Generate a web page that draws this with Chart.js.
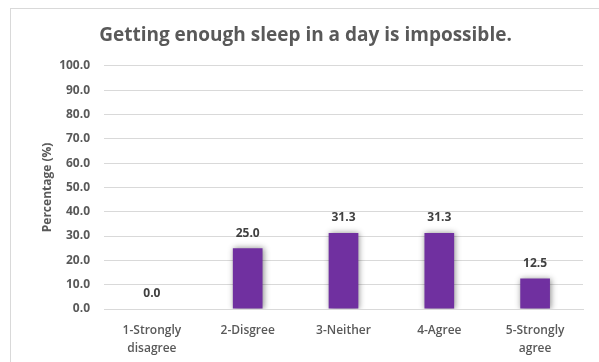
<!DOCTYPE html>
<html>
<head>
<meta charset="utf-8">
<script src="https://cdn.jsdelivr.net/npm/chart.js@4/dist/chart.umd.min.js"></script>
<style>
  html, body { margin: 0; padding: 0; background: #fff; overflow: hidden; }
</style>
</head>
<body>
<canvas id="chart" width="599" height="362"></canvas>
<script>
// values
const categories = [['1-Strongly', 'disagree'], '2-Disgree', '3-Neither', '4-Agree', ['5-Strongly', 'agree']];
const percentages = [0.0, 25.0, 31.3, 31.3, 12.5];
const yTicks = [0, 10, 20, 30, 40, 50, 60, 70, 80, 90, 100];

const fontName = 'Open Sans';
const grey = '#595959';

// outer frame of the Excel chart object
const framePlugin = {
    id: 'frame',
    beforeDraw(chart) {
        const ctx = chart.ctx;
        ctx.save();
        ctx.strokeStyle = '#d9d9d9';
        ctx.lineWidth = 1;
        ctx.strokeRect(10.5, 8.5, 700, 500);
        ctx.restore();
    }
};

// soft shadow behind the bars
const shadowPlugin = {
    id: 'barShadow',
    beforeDatasetsDraw(chart) {
        const ctx = chart.ctx;
        ctx.save();
        ctx.shadowColor = 'rgba(0,0,0,0.45)';
        ctx.shadowBlur = 6;
        ctx.shadowOffsetX = 1;
        ctx.shadowOffsetY = 0;
    },
    afterDatasetsDraw(chart) {
        chart.ctx.restore();
    }
};

// value labels above each bar
const labelPlugin = {
    id: 'valueLabels',
    afterDraw(chart) {
        const ctx = chart.ctx;
        const meta = chart.getDatasetMeta(0);
        ctx.save();
        ctx.font = 'bold 12px "' + fontName + '"';
        ctx.fillStyle = '#404040';
        ctx.textAlign = 'center';
        ctx.textBaseline = 'middle';
        meta.data.forEach((bar, i) => {
            ctx.fillText(percentages[i].toFixed(1), bar.x, bar.y - 15);
        });
        ctx.restore();
    }
};

const ctx = document.getElementById('chart').getContext('2d');
const myChart = new Chart(ctx, {
    type: 'bar',
    data: {
        labels: categories,
        datasets: [{
            data: percentages,
            backgroundColor: '#7030a0',
            borderWidth: 0,
            barPercentage: 0.31,
            categoryPercentage: 1
        }]
    },
    plugins: [framePlugin, shadowPlugin, labelPlugin],
    options: {
        responsive: false,
        animation: false,
        devicePixelRatio: 1,
        layout: { padding: { left: 28, right: 16, top: 0, bottom: 0 } },
        plugins: {
            legend: { display: false },
            tooltip: { enabled: false },
            title: {
                display: true,
                text: 'Getting enough sleep in a day is impossible.',
                color: grey,
                font: { family: fontName, size: 19, weight: 'bold', lineHeight: 1.2 },
                padding: { top: 24, bottom: 19 }
            }
        },
        scales: {
            x: {
                grid: { display: false, drawTicks: false },
                border: { display: true, color: '#d9d9d9' },
                ticks: {
                    color: grey,
                    padding: 13,
                    maxRotation: 0,
                    autoSkip: false,
                    font: { family: fontName, size: 12, weight: '600', lineHeight: 1.45 }
                },
                afterFit(scale) { scale.height = 53; }
            },
            y: {
                min: 0,
                max: 100,
                afterBuildTicks(scale) { scale.ticks = yTicks.map(v => ({ value: v })); },
                grid: { color: '#d9d9d9', drawTicks: false },
                border: { display: false },
                ticks: {
                    color: grey,
                    padding: 14,
                    font: { family: fontName, size: 12, weight: 'bold' },
                    callback: v => v.toFixed(1)
                },
                title: {
                    display: true,
                    text: 'Percentage (%)',
                    color: grey,
                    font: { family: fontName, size: 12, weight: 'bold', lineHeight: 1.2 },
                    padding: { top: 12, bottom: 0 }
                },
                afterFit(scale) { scale.width = 76; }
            }
        }
    }
});
</script>
</body>
</html>
